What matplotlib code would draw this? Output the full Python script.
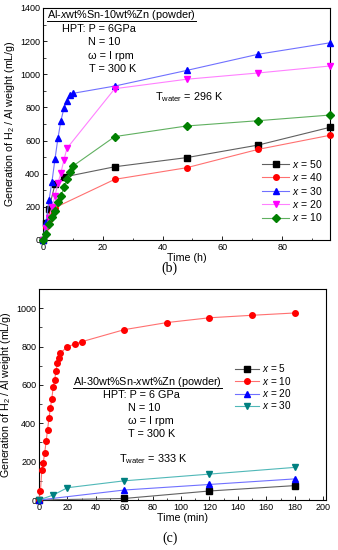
import matplotlib
matplotlib.use("Agg")
import matplotlib.pyplot as plt
from matplotlib.ticker import MultipleLocator
from matplotlib.lines import Line2D

plt.rcParams['font.family'] = ['Liberation Sans', 'DejaVu Sans']
plt.rcParams['mathtext.fontset'] = 'custom'
plt.rcParams['mathtext.rm'] = 'Liberation Sans'
plt.rcParams['mathtext.it'] = 'Liberation Sans:italic'

# ---- panel (b) data: time (h) vs H2 (mL/g) ----
t_b50 = [0, 1, 2, 4, 7, 24, 48, 72, 96]
v_b50 = [0, 100, 190, 335, 380, 442, 497, 573, 680]
t_b40 = [0, 1, 2, 3, 4, 24, 48, 72, 96]
v_b40 = [0, 80, 120, 160, 195, 366, 436, 547, 632]
t_b30 = [0, 1, 2, 3, 4, 5, 6, 7, 8, 9, 10, 24, 48, 72, 96]
v_b30 = [0, 110, 240, 352, 487, 615, 720, 795, 840, 877, 885, 929, 1023, 1121, 1190]
t_b20 = [0, 1, 2, 3, 4, 5, 6, 7, 8, 24, 48, 72, 96]
v_b20 = [0, 74, 130, 199, 265, 344, 406, 483, 553, 913, 970, 1008, 1050]
t_b10 = [0, 1, 2, 3, 4, 5, 6, 7, 8, 9, 10, 24, 48, 72, 96]
v_b10 = [0, 34, 95, 137, 175, 231, 265, 318, 366, 412, 446, 624, 688, 720, 754]
labels_b = ['50', '40', '30', '20', '10']

# ---- panel (c) data: time (min) vs H2 (mL/g) ----
t_c5 = [0, 60, 120, 180]
v_c5 = [0, 8, 47, 75]
t_c10 = [0, 1, 2, 3, 4, 5, 6, 7, 8, 9, 10, 11, 12, 13, 14, 15, 20, 25, 30, 60, 90, 120, 150, 180]
v_c10 = [0, 45, 155, 195, 245, 305, 365, 425, 478, 528, 588, 625, 675, 715, 740, 765,
         800, 812, 825, 888, 925, 950, 963, 975]
t_c20 = [0, 60, 120, 180]
v_c20 = [0, 52, 81, 110]
t_c30 = [0, 10, 20, 60, 120, 180]
v_c30 = [0, 26, 64, 100, 135, 170]
labels_c = ['5', '10', '20', '30']

W, H = 338, 550
fig = plt.figure(figsize=(W / 100, H / 100), dpi=100)

def ax_px(l, t, r, b):
    return fig.add_axes([l / W, 1 - b / H, (r - l) / W, (b - t) / H])

axb = ax_px(43, 8, 330, 240)
axc = ax_px(39, 289, 326, 500)

fs_tick = 6.5
fs_lab = 7.7
fs_txt = 7.8

def style(ax):
    ax.tick_params(which='both', direction='in', labelsize=fs_tick, top=False, right=False, pad=2)
    ax.tick_params(which='major', length=3, width=0.6)
    ax.tick_params(which='minor', length=1.8, width=0.5)
    for s in ax.spines.values():
        s.set_linewidth(0.8)

ms = 4
lw = 0.8
series_b = [
    (t_b50, v_b50, 's', '#000000', '#606060'),
    (t_b40, v_b40, 'o', '#ff0000', '#ff7070'),
    (t_b30, v_b30, '^', '#0000ff', '#7070ff'),
    (t_b20, v_b20, 'v', '#ff00ff', '#ff80ff'),
    (t_b10, v_b10, 'D', '#008000', '#60b060'),
]
for (t, v, m, mc, lc), lab in zip(series_b, labels_b):
    axb.plot(t, v, marker=m, color=lc, mfc=mc, mec=mc, lw=lw,
             ms=ms if m != 'D' else 3.6, label='$x$ = ' + lab, clip_on=False, zorder=3)
axb.set_xlim(0, 96)
axb.set_ylim(0, 1400)
axb.xaxis.set_major_locator(MultipleLocator(20))
axb.xaxis.set_minor_locator(MultipleLocator(10))
axb.yaxis.set_major_locator(MultipleLocator(200))
axb.yaxis.set_minor_locator(MultipleLocator(100))
style(axb)
axb.set_xlabel('Time (h)', fontsize=fs_lab, labelpad=1)
axb.set_ylabel('Generation of H$_2$ / Al weight (mL/g)', fontsize=fs_lab, labelpad=2)
axb.legend(loc='lower right', bbox_to_anchor=(1.0, 0.04), frameon=False, fontsize=7.5,
           handlelength=2.6, handletextpad=0.3, labelspacing=0.14, borderaxespad=0.3)

series_c = [
    (t_c5, v_c5, 's', '#000000', '#606060'),
    (t_c10, v_c10, 'o', '#ff0000', '#ff7070'),
    (t_c20, v_c20, '^', '#0000ff', '#7070ff'),
    (t_c30, v_c30, 'v', '#008080', '#50b8b8'),
]
for (t, v, m, mc, lc), lab in zip(series_c, labels_c):
    axc.plot(t, v, marker=m, color=lc, mfc=mc, mec=mc, lw=lw, ms=ms,
             label='$x$ = ' + lab, clip_on=False, zorder=3)
axc.set_xlim(0, 202)
axc.set_ylim(0, 1100)
axc.xaxis.set_major_locator(MultipleLocator(20))
axc.xaxis.set_minor_locator(MultipleLocator(10))
axc.yaxis.set_major_locator(MultipleLocator(200))
axc.yaxis.set_minor_locator(MultipleLocator(100))
style(axc)
axc.set_xlabel('Time (min)', fontsize=fs_lab, labelpad=1)
axc.set_ylabel('Generation of H$_2$ / Al weight (mL/g)', fontsize=fs_lab, labelpad=2)
axc.legend(loc='upper left', bbox_to_anchor=(0.657, 0.685), frameon=False, fontsize=7.2,
           handlelength=2.4, handletextpad=0.3, labelspacing=0.03, borderaxespad=0.3)

def ftext(x, y, s, **kw):
    return fig.text(x / W, 1 - y / H, s, va='center', ha='left', fontsize=fs_txt, **kw)

tb = ftext(47, 15, 'Al-$x$wt%Sn-10wt%Zn (powder)')
ftext(62, 29, 'HPT: P = 6GPa')
ftext(88, 42, 'N = 10')
ftext(88, 56, 'ω = I rpm')
ftext(89, 69, 'T = 300 K')
ftext(155, 97, 'T$_{\\rm water}$ = 296 K')

tc = ftext(73, 382, 'Al-30wt%Sn-$x$wt%Zn (powder)')
ftext(103, 395, 'HPT: P = 6 GPa')
ftext(128, 408, 'N = 10')
ftext(128, 421, 'ω = I rpm')
ftext(128, 434, 'T = 300 K')
ftext(119, 459, 'T$_{\\rm water}$ = 333 K')

fig.text(169 / W, 1 - 268 / H, '(b)', ha='center', va='center', fontsize=10, family='Liberation Serif')
fig.text(170 / W, 1 - 538 / H, '(c)', ha='center', va='center', fontsize=10, family='Liberation Serif')

fig.canvas.draw()
r = fig.canvas.get_renderer()
for t in (tb, tc):
    bb = t.get_window_extent(r).transformed(fig.transFigure.inverted())
    fig.add_artist(Line2D([bb.x0, bb.x1], [bb.y0 + 0.001, bb.y0 + 0.001],
                          transform=fig.transFigure, color='black', lw=0.7))

fig.savefig('out.png', dpi=100)
